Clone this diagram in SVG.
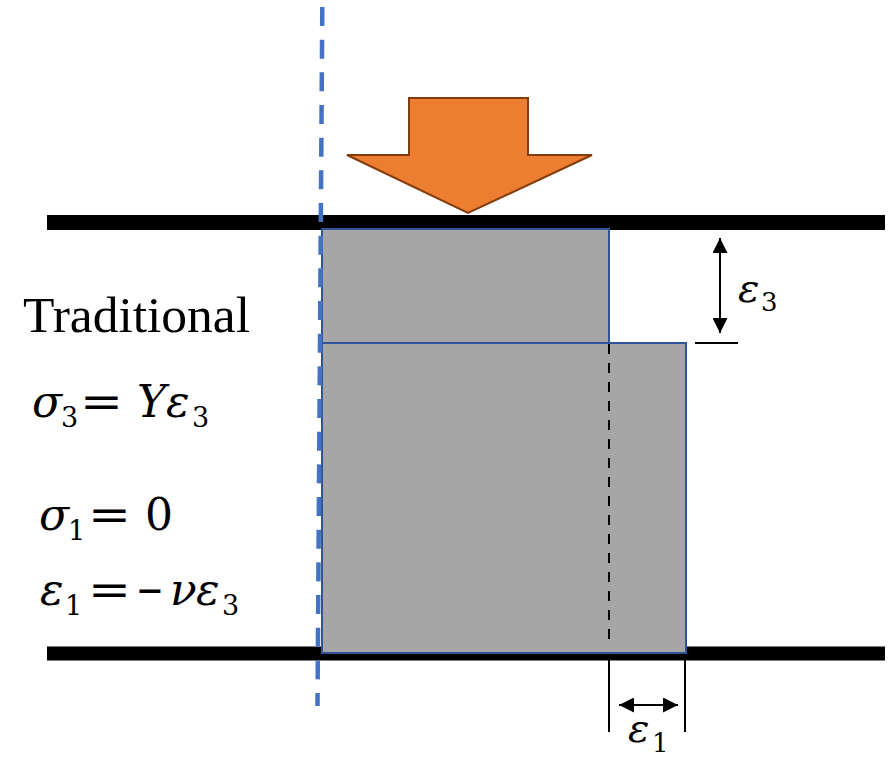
<svg xmlns="http://www.w3.org/2000/svg" width="889" height="757" viewBox="0 0 889 757">
<defs>
<marker id="ah" viewBox="0 0 10 10" refX="10" refY="5" markerWidth="7.5" markerHeight="7.5" markerUnits="strokeWidth" orient="auto-start-reverse">
<path d="M0,0 L10,5 L0,10 Z" fill="#000"/>
</marker>
</defs>
<rect width="889" height="757" fill="#fff"/>

<g id="plates" fill="#000">
<rect x="47" y="215" width="838" height="15"/>
<rect x="47" y="646.5" width="838" height="14"/>
</g>

<g id="block-original">
<rect x="322" y="229" width="287" height="114" fill="#a6a6a6" stroke="#2f5597" stroke-width="2"/>
</g>
<g id="block-deformed">
<rect x="322" y="343" width="364" height="310" fill="#a6a6a6" stroke="#2f5597" stroke-width="2"/>
</g>

<g id="load-arrow">
<path d="M409,98 H528 V155 H592 L468,213 L347,155 H409 Z" fill="#ed7d31" stroke="#843c0c" stroke-width="2"/>
</g>

<g id="connectors" stroke="#000" stroke-width="2" fill="none">
<line x1="322.3" y1="7" x2="317.5" y2="706" stroke="#4472c4" stroke-width="4.5" stroke-dasharray="19 13.67"/>
<line x1="609" y1="344" x2="609" y2="646" stroke-dasharray="10 9"/>
<line x1="609" y1="660" x2="609" y2="732"/>
<line x1="685" y1="660" x2="685" y2="732"/>
<line x1="619" y1="705" x2="678" y2="705" marker-start="url(#ah)" marker-end="url(#ah)"/>
<line x1="720" y1="238" x2="720" y2="333" marker-start="url(#ah)" marker-end="url(#ah)"/>
<line x1="695" y1="343" x2="738" y2="343"/>
</g>

<g id="labels" fill="#000">
<text x="23" y="332" font-size="51.5" font-family="Liberation Serif">Traditional</text>

<text font-size="44" y="417" font-family="DejaVu Serif"><tspan font-style="italic" x="32">σ</tspan><tspan font-size="27" x="61" y="427">3</tspan><tspan x="80" y="417" textLength="43" lengthAdjust="spacingAndGlyphs">=</tspan><tspan font-style="italic" x="137">Y</tspan><tspan font-style="italic" x="166">ε</tspan><tspan font-size="27" x="192" y="427">3</tspan></text>

<text font-size="44" y="530" font-family="DejaVu Serif"><tspan font-style="italic" x="39">σ</tspan><tspan font-size="27" x="68" y="540">1</tspan><tspan x="88" y="530" textLength="43" lengthAdjust="spacingAndGlyphs">=</tspan><tspan x="145">0</tspan></text>

<text font-size="44" y="605" font-family="DejaVu Serif"><tspan font-style="italic" x="40">ε</tspan><tspan font-size="27" x="65" y="615">1</tspan><tspan x="88" y="605" textLength="43" lengthAdjust="spacingAndGlyphs">=</tspan><tspan x="136" textLength="28" lengthAdjust="spacingAndGlyphs">−</tspan><tspan font-style="italic" x="170">ν</tspan><tspan font-style="italic" x="196">ε</tspan><tspan font-size="27" x="222" y="615">3</tspan></text>

<text font-size="40" y="302" font-family="DejaVu Serif"><tspan font-style="italic" x="738">ε</tspan><tspan x="761" y="311" font-size="26">3</tspan></text>

<text font-size="40" y="742" font-family="DejaVu Serif"><tspan font-style="italic" x="628">ε</tspan><tspan x="652" y="752" font-size="26">1</tspan></text>
</g>
</svg>
